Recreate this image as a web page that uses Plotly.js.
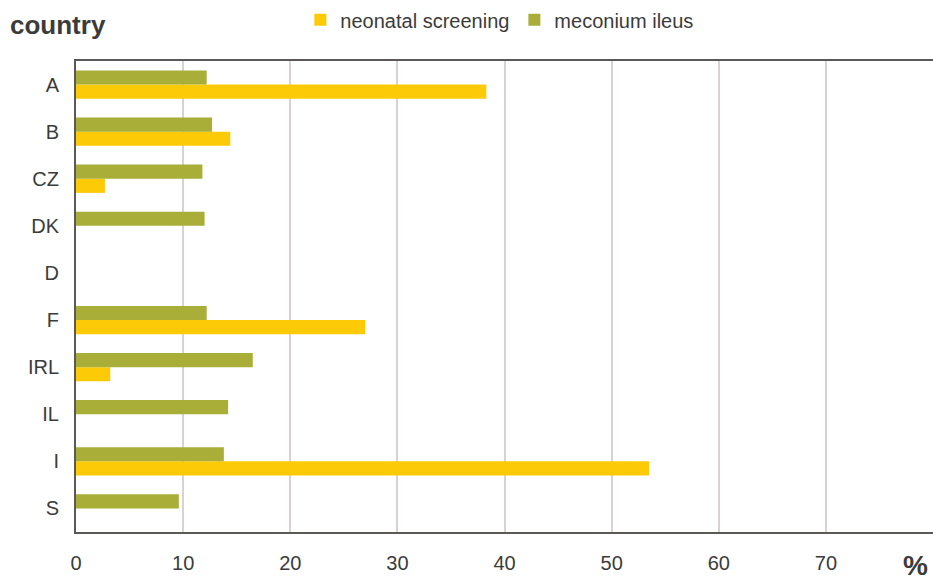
<!DOCTYPE html>
<html>
<head>
<meta charset="utf-8">
<script src="https://cdn.plot.ly/plotly-3.0.1.min.js"></script>
<style>
html,body{margin:0;padding:0;background:#fff;}
#chart{width:933px;height:581px;}
</style>
</head>
<body>
<div id="chart"></div>
<script>
const countries = ['A', 'B', 'CZ', 'DK', 'D', 'F', 'IRL', 'IL', 'I', 'S'];
const neonatalScreening = [38.3, 14.4, 2.7, null, null, 27.0, 3.2, null, 53.5, null];
const meconiumIleus = [12.2, 12.7, 11.8, 12.0, null, 12.2, 16.5, 14.2, 13.8, 9.6];
const seriesNames = ['neonatal screening', 'meconium ileus'];
const xTickValues = [0, 10, 20, 30, 40, 50, 60, 70, 80];
const xTickLabels = ['0', '10', '20', '30', '40', '50', '60', '70', ''];

const FONT = '"Liberation Sans", Arial, Helvetica, sans-serif';
const TXT = '#3b3b3b';

const traces = [
  {
    type: 'bar', orientation: 'h', name: seriesNames[0],
    x: neonatalScreening, y: countries,
    marker: {color: '#FCCA07', line: {width: 0}},
    hoverinfo: 'x+y+name'
  },
  {
    type: 'bar', orientation: 'h', name: seriesNames[1],
    x: meconiumIleus, y: countries,
    marker: {color: '#A8AE38', line: {width: 0}},
    hoverinfo: 'x+y+name'
  }
];

const layout = {
  width: 933, height: 581,
  margin: {l: 76, r: 0, t: 61, b: 49, pad: 0, autoexpand: false},
  paper_bgcolor: '#ffffff', plot_bgcolor: '#ffffff',
  font: {family: FONT, size: 20, color: TXT},
  barmode: 'group', bargap: 0.4, bargroupgap: 0,
  showlegend: true,
  legend: {
    orientation: 'h', xref: 'paper', yref: 'paper',
    x: 0.494, xanchor: 'center', y: 1.129, yanchor: 'top',
    font: {family: FONT, size: 20, color: TXT},
    bgcolor: 'rgba(0,0,0,0)', borderwidth: 0, itemclick: false, tracegroupgap: 0
  },
  xaxis: {
    range: [0, 80], tickmode: 'array', tickvals: xTickValues, ticktext: xTickLabels,
    showgrid: true, gridcolor: '#d9d1d4', gridwidth: 2,
    showline: true, linecolor: '#5b5858', linewidth: 2, mirror: true,
    zeroline: false, ticks: '', ticklabelstandoff: 12,
    tickfont: {family: FONT, size: 20, color: TXT}, fixedrange: true
  },
  yaxis: {
    type: 'category', categoryorder: 'array', categoryarray: countries.slice().reverse(),
    showgrid: false, showline: true, linecolor: '#5b5858', linewidth: 2,
    zeroline: false, ticks: '', ticklabelstandoff: 11,
    tickfont: {family: FONT, size: 20, color: TXT}, fixedrange: true
  },
  annotations: [
    {
      text: '<b>country</b>', xref: 'paper', yref: 'paper', x: 0, y: 1,
      xanchor: 'left', yanchor: 'middle', xshift: -68, yshift: 36,
      showarrow: false, font: {family: FONT, size: 26, color: TXT}
    },
    {
      text: '<b>%</b>', xref: 'paper', yref: 'paper', x: 1, y: 0,
      xanchor: 'right', yanchor: 'middle', xshift: -3, yshift: -33,
      showarrow: false, font: {family: FONT, size: 28, color: TXT}
    }
  ]
};

Plotly.newPlot('chart', traces, layout, {displayModeBar: false});
</script>
</body>
</html>
